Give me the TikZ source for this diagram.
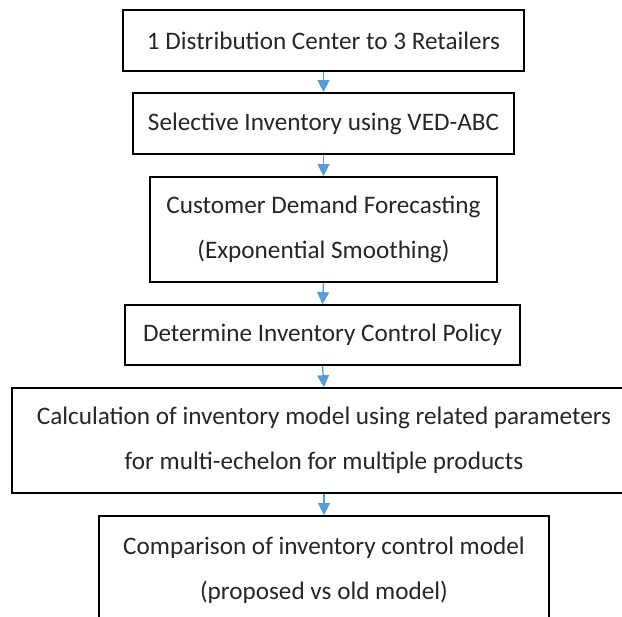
\documentclass[tikz,border=0pt]{standalone}
\usepackage{fontspec}
\setmainfont{Carlito}
\usetikzlibrary{arrows.meta}
\definecolor{arrowblue}{RGB}{91,155,213}
\begin{document}
\begin{tikzpicture}[x=1pt,y=-1pt,
  box/.style={draw=black, line width=1.7pt, inner sep=0pt, align=center,
    font=\fontsize{25.2}{45}\selectfont, text=black!85},
  flow/.style={draw=arrowblue, line width=1.3pt,
    -{Triangle[width=12pt,length=12pt]}, fill=arrowblue}]
\useasboundingbox (0,0) rectangle (622,617);
\node[box, minimum width=401pt, minimum height=61pt] (b1) at (323.5,40.5)
  {1 Distribution Center to 3 Retailers};
\node[box, minimum width=381pt, minimum height=61pt] (b2) at (323.5,123.5)
  {Selective Inventory using VED-ABC};
\node[box, minimum width=347pt, minimum height=105pt] (b3) at (323.5,229.5)
  {Customer Demand Forecasting\\(Exponential Smoothing)};
\node[box, minimum width=395pt, minimum height=60pt] (b4) at (322.5,335)
  {Determine Inventory Control Policy};
\node[box, minimum width=624pt, minimum height=105pt] (b5) at (324,440.5)
  {Calculation of inventory model using related parameters\\for multi-echelon for multiple products};
\node[box, minimum width=450pt, minimum height=108pt] (b6) at (324,570)
  {Comparison of inventory control model\\(proposed vs old model)};
\draw[flow] (b1.south) -- (b2.north);
\draw[flow] (b2.south) -- (b3.north);
\draw[flow] (b3.south) -- (b4.north);
\draw[flow] (b4.south) -- (b5.north);
\draw[flow] (b5.south) -- (b6.north);
\end{tikzpicture}
\end{document}
